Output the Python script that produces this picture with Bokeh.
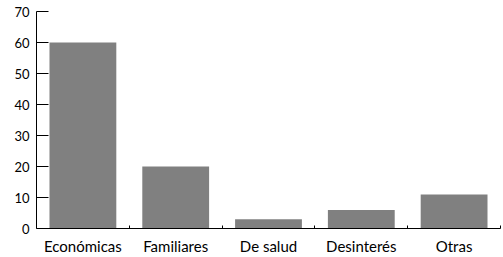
from bokeh.plotting import figure
from bokeh.models import FixedTicker, Range1d
from bokeh.embed import file_html
from bokeh.resources import INLINE

categories = ["Económicas", "Familiares", "De salud", "Desinterés", "Otras"]
values = [60, 20, 3, 6, 11]
y_ticks = [0, 10, 20, 30, 40, 50, 60, 70]

n = len(categories)
centers = [i + 0.5 for i in range(n)]
bounds = [i + 1 for i in range(n)]

FONT = "Lato"

p = figure(width=503, height=257, output_backend="svg", toolbar_location=None,
           x_range=Range1d(0, n), y_range=Range1d(0, 70),
           min_border_left=36, min_border_right=3, min_border_top=11, min_border_bottom=28)
p.vbar(x=centers, top=values, width=0.72, bottom=0, fill_color="#808080", line_color=None)

p.outline_line_color = None
p.grid.grid_line_color = None

xa = p.xaxis[0]
xa.ticker = FixedTicker(ticks=centers, minor_ticks=bounds)
xa.major_label_overrides = {c: lab for c, lab in zip(centers, categories)}
xa.major_tick_line_color = None
xa.minor_tick_in = 3
xa.minor_tick_out = 0
xa.minor_tick_line_color = "black"
xa.axis_line_color = "black"
xa.major_label_standoff = 2
xa.major_label_text_font = FONT
xa.major_label_text_font_size = "15px"
xa.major_label_text_color = "black"

ya = p.yaxis[0]
ya.ticker = FixedTicker(ticks=y_ticks)
ya.major_tick_in = 12
ya.major_tick_out = 0
ya.minor_tick_line_color = None
ya.axis_line_color = "black"
ya.major_tick_line_color = "black"
ya.major_label_standoff = 7
ya.major_label_text_font = FONT
ya.major_label_text_font_size = "13px"
ya.major_label_text_color = "black"

open("out.html", "w").write(file_html(p, INLINE))
